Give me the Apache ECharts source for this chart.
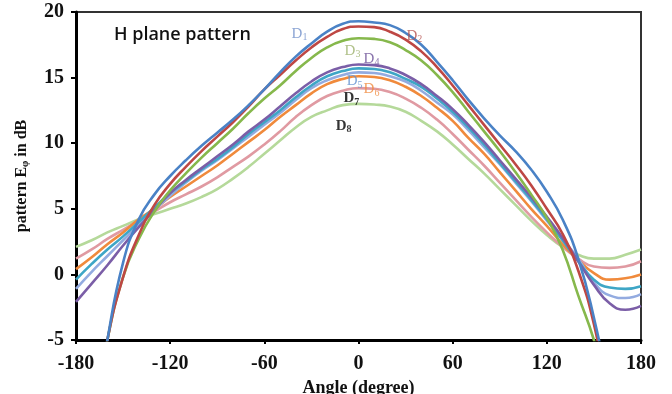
<!DOCTYPE html>
<html><head><meta charset="utf-8">
<script src="https://cdn.jsdelivr.net/npm/echarts@6/dist/echarts.min.js"></script>
<style>html,body{margin:0;padding:0;background:#fff}#c{width:672px;height:394px}</style>
</head><body><div id="c"></div>
<script>
// Angles (deg), every 10 degrees from -180 to 180
const angles = [-180,-170,-160,-150,-140,-130,-120,-110,-100,-90,-80,-70,-60,-50,-40,-30,-20,-10,0,10,20,30,40,50,60,70,80,90,100,110,120,130,140,150,160,170,180];
// Pattern values in dB (null = far below the plotted range)
const D1 = [null,-12.5,-5,0.9,4.2,6.1,7.5,8.7,9.8,10.8,11.8,12.9,14.1,15.4,16.6,17.6,18.5,19.1,19.3,19.2,19.0,18.4,17.5,16.2,14.8,13.3,11.9,10.6,9.4,8.0,6.3,4.2,1.2,-3.3,-9.0,null,null];
const D2 = [null,-12,-5,-0.2,3.0,5.3,6.9,8.2,9.4,10.5,11.6,12.8,14.1,15.2,16.3,17.3,18.1,18.7,18.9,18.85,18.5,17.9,17.0,15.8,14.4,12.9,11.4,9.9,8.4,6.8,5.0,3.1,0.3,-3.8,-10,null,null];
const D3 = [null,-12,-5,-0.2,2.7,4.8,6.4,7.7,8.9,10.0,11.1,12.3,13.4,14.4,15.5,16.5,17.3,17.8,18.0,17.95,17.7,17.1,16.3,15.2,13.9,12.4,10.9,9.4,7.8,6.1,4.3,1.9,-1.6,-5.0,-9.5,null,null];
const D4 = [-2.1,-0.7,0.7,2.2,3.6,4.9,6.2,7.2,8.1,9.0,9.9,10.9,11.8,12.8,13.8,14.7,15.4,15.8,16.0,15.95,15.7,15.2,14.5,13.6,12.6,11.4,10.1,8.7,7.3,5.9,4.4,2.8,1.0,-0.8,-2.2,-2.7,-2.4];
const D5 = [-1.1,0.2,1.4,2.6,3.8,4.9,6.0,7.0,7.9,8.7,9.6,10.5,11.4,12.3,13.3,14.2,14.8,15.2,15.4,15.35,15.1,14.7,14.0,13.1,12.2,11.0,9.7,8.4,7.0,5.6,4.1,2.7,1.2,-0.6,-1.6,-1.8,-1.5];
const DT = [-0.4,0.8,1.9,2.9,4.0,5.1,6.2,7.1,8.0,8.8,9.7,10.7,11.6,12.5,13.5,14.4,15.1,15.5,15.7,15.65,15.4,14.9,14.3,13.4,12.4,11.2,9.9,8.5,7.1,5.7,4.2,2.6,1.0,-0.4,-1.0,-1.1,-0.9];
const D6 = [0.4,1.3,2.3,3.2,4.2,5.0,5.9,6.7,7.5,8.3,9.2,10.1,11.0,12.0,12.9,13.8,14.5,14.9,15.1,15.05,14.8,14.3,13.6,12.7,11.7,10.4,9.2,7.8,6.4,5.0,3.7,2.3,1.1,0.1,-0.4,-0.3,0.0];
const D7 = [1.2,1.9,2.7,3.4,4.1,4.8,5.5,6.1,6.7,7.4,8.2,9.0,9.9,10.9,12.0,12.9,13.6,14.0,14.2,14.15,13.9,13.4,12.7,11.8,10.7,9.5,8.3,7.0,5.7,4.4,3.2,2.1,1.2,0.6,0.5,0.6,1.0];
const D8 = [2.1,2.6,3.2,3.7,4.2,4.6,5.0,5.4,5.9,6.5,7.3,8.2,9.2,10.2,11.2,12.0,12.5,12.9,13.0,12.95,12.8,12.4,11.7,10.9,9.9,8.8,7.7,6.5,5.3,4.1,3.0,2.1,1.5,1.2,1.2,1.5,1.9];

const xTicks = [-180, 180, 60];   // min, max, interval
const yTicks = [-5, 20, 5];
const labelNames = ['1','2','3','4','5','6','7','8'];
const labelPos = [[-37.6,18.3],[35.6,18.2],[-3.8,17.0],[8.3,16.4],[-2.5,14.7],[8.3,14.1],[-4.5,13.4],[-9.5,11.3]];
const labelColors = ['#6f8fc9','#b5504d','#9bb06a','#6a4f96','#5f8fd0','#f0893c','#000','#000'];

const seriesDefs = [
  {name:'D8', data:D8, color:'#b5d99a'},
  {name:'D7', data:D7, color:'#e09aa2'},
  {name:'D6', data:D6, color:'#f08a3c'},
  {name:'D5', data:D5, color:'#93abe0'},
  {name:'DT', data:DT, color:'#3ea6c6'},
  {name:'D4', data:D4, color:'#7b5ea7'},
  {name:'D3', data:D3, color:'#86b84c'},
  {name:'D2', data:D2, color:'#be4744'},
  {name:'D1', data:D1, color:'#4a82c6'}
];

const chart = echarts.init(document.getElementById('c'));
const serif = '"Liberation Serif","Times New Roman",serif';
const series = seriesDefs.map(s => ({
  type:'line', name:s.name,
  data: angles.map((a,i)=>[a, s.data[i]]).filter(p=>p[1]!==null),
  smooth:0.5, showSymbol:false, symbol:'none',
  lineStyle:{color:s.color, width:2.6}, itemStyle:{color:s.color}, clip:true, silent:true
}));
series.push({
  type:'scatter', symbolSize:0, silent:true, z:10,
  data: labelPos.map((p,i)=>{
    const bold = i>=6 ? 'bold' : 'normal';
    return {value:p, name:labelNames[i], label:{
      rich:{ m:{fontFamily:serif, fontSize:15, fontWeight:bold, color:labelColors[i]},
             s:{fontFamily:serif, fontSize:10, fontWeight:bold, padding:[7,0,0,0], color:labelColors[i]} }
    }};
  }),
  label:{show:true, position:'inside', formatter: p => '{m|D}{s|' + p.name + '}'}
});

chart.setOption({
  animation:false,
  backgroundColor:'#fff',
  title:{text:'H plane pattern', left:109, top:21, textStyle:{fontFamily:'"Open Sans",sans-serif', fontSize:18, fontWeight:600, color:'#111'}},
  grid:{left:76, right:31, top:12, bottom:54, containLabel:false, outerBoundsMode:'none',
    show:true, borderColor:'#333', borderWidth:2, backgroundColor:'transparent'},
  xAxis:{type:'value', min:xTicks[0], max:xTicks[1], interval:xTicks[2],
    name:'Angle (degree)', nameLocation:'middle', nameGap:36,
    nameTextStyle:{fontFamily:serif, fontSize:18, fontWeight:'bold', color:'#111'},
    axisLine:{onZero:false, lineStyle:{color:'#000', width:3}},
    axisTick:{show:true, length:4, lineStyle:{color:'#000', width:2}},
    axisLabel:{fontFamily:serif, fontSize:20, fontWeight:'bold', color:'#111', margin:14},
    splitLine:{show:false}},
  yAxis:{type:'value', min:yTicks[0], max:yTicks[1], interval:yTicks[2],
    name:'pattern E{sub|φ} in dB', nameLocation:'middle', nameGap:46,
    nameTextStyle:{fontFamily:serif, fontSize:16, fontWeight:'bold', color:'#111',
      rich:{sub:{fontFamily:serif, fontSize:10, fontWeight:'bold', color:'#111', padding:[6,0,0,0]}}},
    axisLine:{onZero:false, lineStyle:{color:'#000', width:3}},
    axisTick:{show:true, length:5, lineStyle:{color:'#000', width:2}},
    axisLabel:{fontFamily:serif, fontSize:20, fontWeight:'bold', color:'#111', margin:12},
    splitLine:{show:false}},
  series: series
});
</script></body></html>
